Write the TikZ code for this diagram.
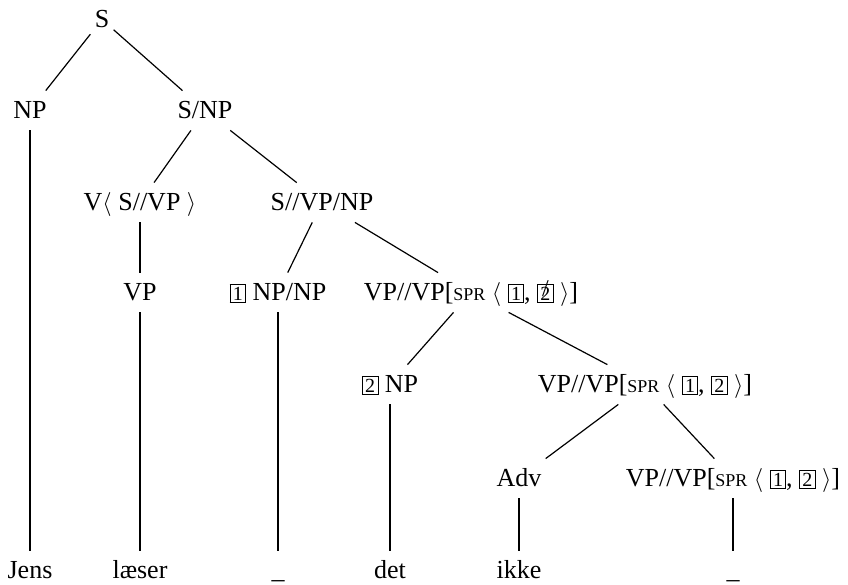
\documentclass[tikz,border=0pt]{standalone}
\usepackage{fontspec}
\setmainfont{Liberation Serif}

\newcommand{\tagbox}[1]{{\setlength{\fboxsep}{1.2pt}\setlength{\fboxrule}{0.4pt}\fbox{\fontsize{10}{10}\selectfont #1}}}
\newcommand{\struck}[1]{\ooalign{#1\cr\hidewidth\raisebox{1.8pt}{\fontsize{12}{12}\selectfont /}\hidewidth\cr}}
\newcommand{\spr}{{\fontsize{9}{10}\selectfont SPR}}

\begin{document}
\begin{tikzpicture}[x=0.5pt, y=-0.5pt,
    cat/.style={anchor=base, inner xsep=2pt, inner ysep=3.5pt,
      text height=1em, text depth=0.25em, font=\fontsize{13}{15}\selectfont},
    branch/.style={line width=0.6pt}]
  \useasboundingbox (0,0) rectangle (848,585);

  \node[cat] (s)     at (102,27)  {S};
  \node[cat] (np)    at (30,118)  {NP};
  \node[cat] (snp)   at (205,118) {S/NP};
  \node[cat] (v)     at (140,210) {V$\langle$ S//VP $\rangle$};
  \node[cat] (svpnp) at (322,210) {S//VP/NP};
  \node[cat] (vp)    at (140,300) {VP};
  \node[cat] (npnp)  at (278,300) {\tagbox{1} NP/NP};
  \node[cat] (vpa)   at (471,300) {VP//VP[\spr\ $\langle$\ \tagbox{1}, \tagbox{\struck{2}}\ $\rangle$]};
  \node[cat] (nptwo) at (390,392) {\tagbox{2} NP};
  \node[cat] (vpb)   at (645,392) {VP//VP[\spr\ $\langle$\ \tagbox{1}, \tagbox{2}\ $\rangle$]};
  \node[cat] (adv)   at (519,486) {Adv};
  \node[cat] (vpc)   at (733,486) {VP//VP[\spr\ $\langle$\ \tagbox{1}, \tagbox{2}\ $\rangle$]};

  % leaves
  \node[cat] (jens)   at (30,578)  {Jens};
  \node[cat] (laeser) at (140,578) {læser};
  \node[cat] (gapa)   at (278,578) {\_};
  \node[cat] (det)    at (390,578) {det};
  \node[cat] (ikke)   at (519,578) {ikke};
  \node[cat] (gapb)   at (733,578) {\_};

  \foreach \a/\b in {s/np, s/snp, snp/v, snp/svpnp, v/vp, svpnp/npnp, svpnp/vpa,
      vpa/nptwo, vpa/vpb, vpb/adv, vpb/vpc,
      np/jens, vp/laeser, npnp/gapa, nptwo/det, adv/ikke, vpc/gapb}
    \draw[branch] (\a) -- (\b);
\end{tikzpicture}
\end{document}
